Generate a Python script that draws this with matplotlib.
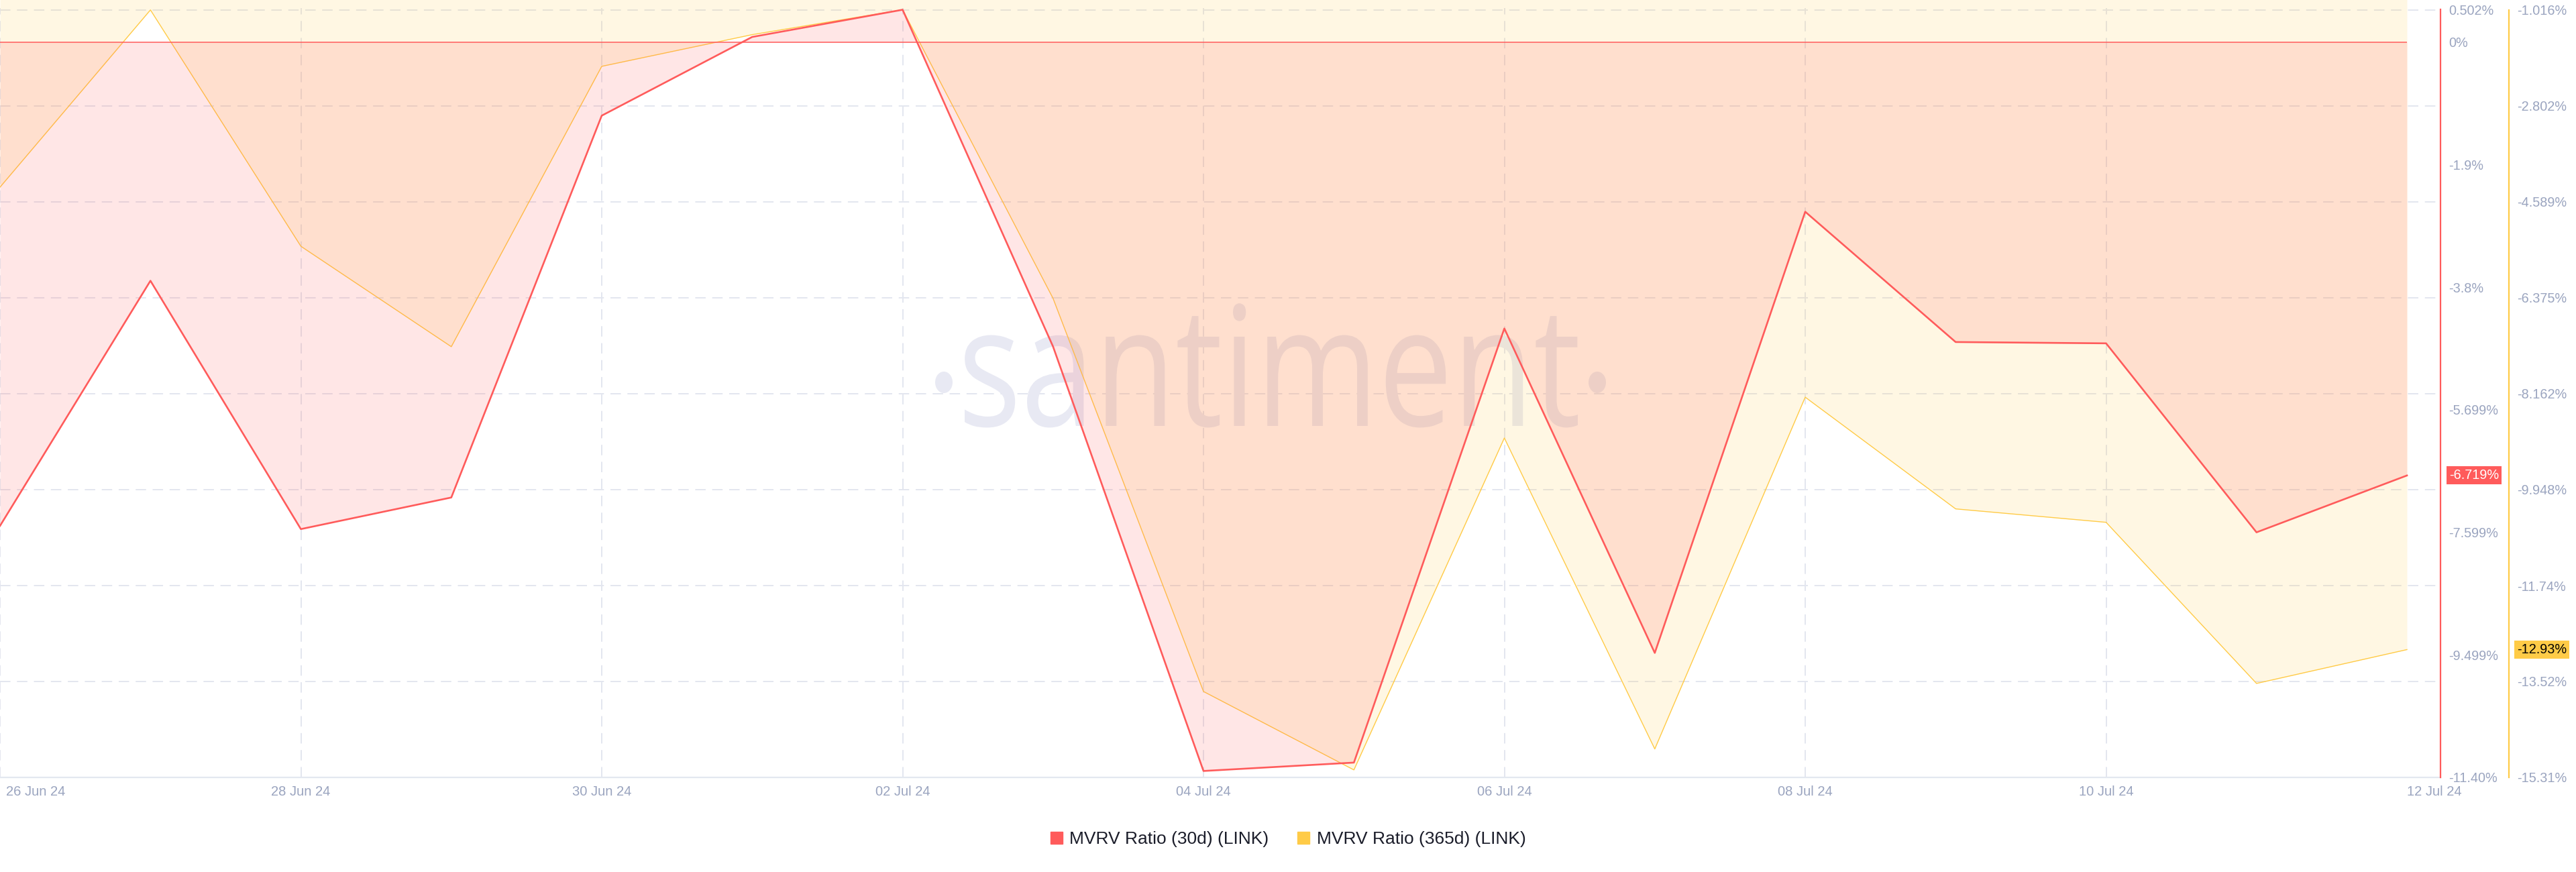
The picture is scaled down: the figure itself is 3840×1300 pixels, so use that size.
import pandas as pd
import matplotlib
matplotlib.use("Agg")
import matplotlib.pyplot as plt
import matplotlib.dates as mdates
from matplotlib.lines import Line2D
from matplotlib.textpath import TextPath
from matplotlib.patches import PathPatch, Ellipse
from matplotlib.font_manager import FontProperties
from matplotlib.transforms import Affine2D, IdentityTransform, ScaledTranslation, blended_transform_factory

# data (MVRV %, daily)
dates = pd.date_range("2024-06-26", "2024-07-12", freq="D")
mvrv_30d = [-7.50, -3.70, -7.55, -7.06, -1.14, 0.08, 0.502, -4.72, -11.30, -11.17,
            -4.44, -9.47, -2.63, -4.65, -4.67, -7.60, -6.719]
mvrv_365d = [-4.32, -1.02, -5.42, -7.29, -2.07, -1.48, -1.016, -6.39, -13.71, -15.17,
             -8.99, -14.78, -8.23, -10.31, -10.56, -13.56, -12.93]

red_ticks = [0.502, 0, -1.9, -3.8, -5.699, -7.599, -9.499, -11.40]
red_labels = ["0.502%", "0%", "-1.9%", "-3.8%", "-5.699%", "-7.599%", "-9.499%", "-11.40%"]
yel_ticks = [-1.016, -2.802, -4.589, -6.375, -8.162, -9.948, -11.74, -13.52, -15.31]
yel_labels = ["-1.016%", "-2.802%", "-4.589%", "-6.375%", "-8.162%", "-9.948%", "-11.74%", "-13.52%", "-15.31%"]
x_ticks = pd.date_range("2024-06-26", "2024-07-12", freq="2D")

RED = "#ff5b5b"
YEL = "#ffcb47"
GRID = "#e3e6ef"
LABEL = "#9aa4bf"

plt.rcParams["font.family"] = ["Liberation Sans", "DejaVu Sans"]

W, H = 3840, 1300
fig = plt.figure(figsize=(W / 100, H / 100), dpi=100)
fig.patch.set_facecolor("white")

plot_right = 3638
plot_bottom = 1159
ax_y = fig.add_axes([0, 1 - plot_bottom / H, plot_right / W, plot_bottom / H])
ax_y.patch.set_facecolor("none")
ax_r = ax_y.twinx()

# y ranges: top label at pixel 14.5, bottom at 1159, plot extends up to 0
px_top = 14.5
span = plot_bottom - px_top
r_hi, r_lo = red_ticks[0], red_ticks[-1]
y_hi, y_lo = yel_ticks[0], yel_ticks[-1]
ax_r.set_ylim(r_lo, r_hi + (r_hi - r_lo) * px_top / span)
ax_y.set_ylim(y_lo, y_hi + (y_hi - y_lo) * px_top / span)

x0 = dates[0]
ax_y.set_xlim(x0, x0 + pd.Timedelta(days=plot_right / 224.25))

# grid
for t in yel_ticks:
    ax_y.axhline(t, color=GRID, lw=1.4, ls=(0, (8, 5)), zorder=0)
for d in x_ticks[:-1]:
    ax_y.axvline(d, color=GRID, lw=1.4, ls=(0, (8, 5)), ymax=0.99, zorder=0)

# watermark (under the fills)
fp = FontProperties(family="Open Sans")
tp = TextPath((0, 0), "santiment", size=1, prop=fp)
ext = tp.get_extents()
sx = (2352 - 1438) / ext.width
sy = 133 / 0.535
tr = Affine2D().translate(-ext.x0, 0).scale(sx, sy).translate(1438, H - 635)
ax_y.add_patch(PathPatch(tp, transform=tr, facecolor="#e8e9f3", edgecolor="none", zorder=0.5))
for cx in (1407, 2381):
    ax_y.add_patch(Ellipse((cx, H - 570), 26, 32, transform=IdentityTransform(),
                           facecolor="#e8e9f3", edgecolor="none", zorder=0.5))

# yellow series
ax_y.fill_between(dates, mvrv_365d, 0, color=YEL, alpha=0.15, lw=0, zorder=1)
ax_y.plot(dates, mvrv_365d, color=YEL, lw=1.0, zorder=2)

# red series
ax_r.fill_between(dates, mvrv_30d, 0, color=RED, alpha=0.15, lw=0, zorder=1)
ax_r.hlines(0, dates[0], dates[-1], color=RED, lw=1.3, alpha=0.85, zorder=2)
ax_r.plot(dates, mvrv_30d, color=RED, lw=1.9, zorder=3)

# spines
for a in (ax_y, ax_r):
    for s in ("top", "left"):
        a.spines[s].set_visible(False)
ax_r.spines["bottom"].set_visible(False)
ax_y.spines["bottom"].set_color("#e3e8f0")
ax_y.spines["bottom"].set_linewidth(1.6)

ax_y.yaxis.tick_right()
ax_y.spines["right"].set_position(("axes", 3740 / plot_right))
ax_y.spines["right"].set_color(YEL)
ax_y.spines["right"].set_linewidth(1.6)
ax_y.spines["right"].set_bounds(y_lo, y_hi)
ax_r.spines["right"].set_color(RED)
ax_r.spines["right"].set_linewidth(1.6)
ax_r.spines["right"].set_bounds(r_lo, r_hi)

ax_y.set_yticks(yel_ticks)
ax_y.set_yticklabels(yel_labels)
ax_r.set_yticks(red_ticks)
ax_r.set_yticklabels(red_labels)
for a in (ax_y, ax_r):
    a.tick_params(axis="y", length=0, pad=8.6, labelsize=14.3, labelcolor=LABEL)

ax_y.set_xticks(x_ticks)
ax_y.xaxis.set_major_formatter(mdates.DateFormatter("%d %b %y"))
ax_y.tick_params(axis="x", length=0, pad=9, labelsize=14.5, labelcolor=LABEL)
xl = ax_y.get_xticklabels()
xl[0].set_ha("left")
xl[0].set_transform(xl[0].get_transform() + ScaledTranslation(0.09, 0, fig.dpi_scale_trans))
xl[-1].set_ha("left")

# last value badges
tr_r = blended_transform_factory(ax_r.transAxes, ax_r.transData)
ax_r.text(3651 / plot_right, mvrv_30d[-1], "-6.719%", transform=tr_r, ha="left", va="center",
          fontsize=14.3, color="white", zorder=5, clip_on=False,
          bbox=dict(boxstyle="square,pad=0.2", facecolor=RED, edgecolor="none"))
tr_y = blended_transform_factory(ax_y.transAxes, ax_y.transData)
ax_r.text(3752 / plot_right, mvrv_365d[-1], "-12.93%", transform=tr_y, ha="left", va="center",
          fontsize=14.3, color="black", zorder=5, clip_on=False,
          bbox=dict(boxstyle="square,pad=0.2", facecolor=YEL, edgecolor="none"))

handles = [Line2D([], [], marker="s", ls="", ms=13, color=RED),
           Line2D([], [], marker="s", ls="", ms=13, color=YEL)]
fig.legend(handles, ["MVRV Ratio (30d) (LINK)", "MVRV Ratio (365d) (LINK)"],
           loc="center", bbox_to_anchor=(0.5, 1 - 1251 / H), ncol=2, frameon=False,
           fontsize=19, labelcolor="#1b1d2a", handlelength=0.7, handletextpad=0.4,
           columnspacing=1.6)

fig.savefig("out.png", dpi=100)
